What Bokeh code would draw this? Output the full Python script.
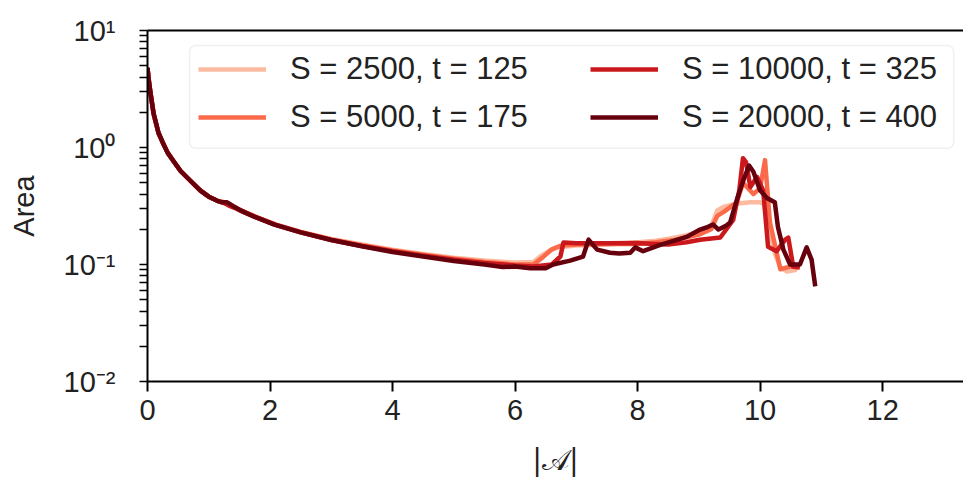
from bokeh.plotting import figure
from bokeh.models import (FixedTicker, CustomJSTickFormatter, LinearAxis, Legend,
                          LegendItem, BoxAnnotation)
from bokeh.embed import file_html
from bokeh.resources import INLINE

# ---------------- data ----------------
labels = ["S = 2500, t = 125", "S = 5000, t = 175", "S = 10000, t = 325", "S = 20000, t = 400"]
colors = ["#fcbba1", "#fb6a4a", "#cb181d", "#67000d"]

x_2500 = [0, 0.02, 0.05, 0.1, 0.18, 0.25, 0.33, 0.42, 0.54, 0.7, 0.86, 1.0, 1.14, 1.25, 1.32,
          1.42, 1.55, 1.8, 2.1, 2.5, 3.0, 3.5, 4.0, 4.5, 5.0, 5.5, 6.0, 6.3, 6.41, 6.55, 6.69,
          7.0, 7.5, 8.0, 8.3, 8.53, 8.8, 9.0, 9.2, 9.3, 9.4, 9.6, 9.84, 10.0, 10.06, 10.15,
          10.25, 10.33, 10.44, 10.6]
y_2500 = [4.7, 3.7, 2.85, 1.9, 1.32, 1.1, 0.9, 0.77, 0.63, 0.52, 0.43, 0.38, 0.35, 0.34, 0.33,
          0.31, 0.285, 0.25, 0.218, 0.19, 0.165, 0.148, 0.134, 0.123, 0.114, 0.108, 0.104, 0.105,
          0.117, 0.13, 0.14, 0.145, 0.148, 0.155, 0.16, 0.167, 0.178, 0.19, 0.21, 0.29, 0.31,
          0.33, 0.34, 0.34, 0.33, 0.2, 0.12, 0.095, 0.087, 0.09]

x_5000 = [0, 0.02, 0.05, 0.1, 0.18, 0.25, 0.33, 0.42, 0.54, 0.7, 0.86, 1.0, 1.14, 1.25, 1.32,
          1.42, 1.55, 1.8, 2.1, 2.5, 3.0, 3.5, 4.0, 4.5, 5.0, 5.5, 6.0, 6.3, 6.45, 6.6, 6.75,
          7.0, 7.5, 8.0, 8.3, 8.6, 9.0, 9.2, 9.3, 9.4, 9.62, 9.72, 9.8, 9.89, 10.0, 10.08,
          10.16, 10.33, 10.49, 10.62]
y_5000 = [4.75, 3.75, 2.9, 1.92, 1.33, 1.1, 0.9, 0.77, 0.63, 0.52, 0.43, 0.38, 0.35, 0.34, 0.33,
          0.31, 0.287, 0.252, 0.219, 0.19, 0.164, 0.146, 0.132, 0.121, 0.112, 0.105, 0.1, 0.1,
          0.115, 0.135, 0.145, 0.148, 0.15, 0.15, 0.155, 0.162, 0.18, 0.2, 0.26, 0.28, 0.34,
          0.5, 0.45, 0.4, 0.45, 0.78, 0.23, 0.091, 0.096, 0.094]

x_10000 = [0, 0.02, 0.05, 0.1, 0.18, 0.25, 0.33, 0.42, 0.54, 0.7, 0.86, 1.0, 1.14, 1.25, 1.32,
           1.42, 1.55, 1.8, 2.1, 2.5, 3.0, 3.5, 4.0, 4.5, 5.0, 5.5, 6.0, 6.3, 6.6, 6.74, 6.79,
           7.0, 7.5, 8.0, 8.25, 8.5, 8.8, 9.02, 9.35, 9.56, 9.66, 9.72, 9.77, 9.84, 9.95, 10.05,
           10.13, 10.27, 10.41, 10.46, 10.54, 10.65]
y_10000 = [4.8, 3.8, 2.9, 1.95, 1.33, 1.1, 0.9, 0.77, 0.63, 0.52, 0.43, 0.38, 0.35, 0.335, 0.32,
           0.305, 0.283, 0.25, 0.217, 0.188, 0.162, 0.144, 0.13, 0.119, 0.11, 0.103, 0.098, 0.096,
           0.1, 0.117, 0.154, 0.152, 0.152, 0.153, 0.15, 0.148, 0.155, 0.163, 0.17, 0.24, 0.43,
           0.81, 0.75, 0.46, 0.56, 0.43, 0.142, 0.13, 0.163, 0.17, 0.096, 0.094]

x_20000 = [0, 0.02, 0.05, 0.1, 0.18, 0.25, 0.33, 0.42, 0.54, 0.7, 0.86, 1.0, 1.14, 1.22, 1.3,
           1.4, 1.52, 1.75, 2.06, 2.5, 3.0, 3.5, 4.0, 4.5, 5.0, 5.5, 5.8, 6.0, 6.25, 6.5, 6.62,
           6.9, 7.11, 7.2, 7.34, 7.55, 7.7, 7.88, 7.96, 8.09, 8.37, 8.6, 8.81, 9.02, 9.15, 9.23,
           9.32, 9.45, 9.51, 9.62, 9.73, 9.82, 9.89, 10.0, 10.11, 10.24, 10.29, 10.38, 10.49,
           10.65, 10.76, 10.84, 10.9]
y_20000 = [4.8, 3.8, 2.9, 1.95, 1.33, 1.1, 0.9, 0.77, 0.63, 0.52, 0.43, 0.38, 0.35, 0.34, 0.34,
           0.315, 0.29, 0.255, 0.22, 0.188, 0.162, 0.143, 0.128, 0.117, 0.107, 0.1, 0.095, 0.096,
           0.093, 0.093, 0.1, 0.108, 0.117, 0.163, 0.134, 0.126, 0.124, 0.126, 0.14, 0.13, 0.147,
           0.16, 0.173, 0.199, 0.21, 0.22, 0.199, 0.215, 0.228, 0.357, 0.53, 0.70, 0.62, 0.43,
           0.37, 0.34, 0.21, 0.134, 0.10, 0.10, 0.14, 0.11, 0.065]

xs = [x_2500, x_5000, x_10000, x_20000]
ys = [y_2500, y_5000, y_10000, y_20000]

x_ticks = [0, 2, 4, 6, 8, 10, 12]
y_decades = [0.01, 0.1, 1, 10]

FONT = "Liberation Sans"

p = figure(width=963, height=479, y_axis_type="log",
           x_range=(0, 13.32), y_range=(0.01, 10),
           output_backend="svg", toolbar_location=None,
           min_border_left=147, min_border_right=0, min_border_top=30, min_border_bottom=97)
p.outline_line_color = None
p.grid.visible = False
p.background_fill_color = "white"
p.border_fill_color = "white"

renderers = []
for x, y, c in zip(xs, ys, colors):
    r = p.line(x, y, line_color=c, line_width=4.5, line_join="round")
    renderers.append(r)

# axes
for ax in [p.xaxis[0], p.yaxis[0]]:
    ax.axis_line_width = 2
    ax.major_tick_line_width = 2
    ax.major_tick_in = 0
    ax.major_tick_out = 10
    ax.minor_tick_in = 0
    ax.minor_tick_out = 0
    ax.major_label_text_font = FONT
    ax.major_label_text_font_size = "29px"
    ax.major_label_text_color = "#222222"
    ax.axis_label_text_font = FONT
    ax.axis_label_text_font_size = "29px"
    ax.axis_label_text_font_style = "normal"
    ax.axis_label_text_color = "#222222"

p.xaxis.ticker = FixedTicker(ticks=x_ticks)
p.xaxis.major_label_standoff = 8
p.xaxis.axis_label = "|𝒜|"
p.xaxis.axis_label_text_font = "DejaVu Serif"
p.xaxis.axis_label_standoff = 20

# every log position 1..9 x 10^k gets a tick; only decades get a label
all_y_ticks = [m * d for d in y_decades[:-1] for m in range(1, 10)] + [y_decades[-1]]
p.yaxis.ticker = FixedTicker(ticks=all_y_ticks)
p.yaxis.major_tick_out = 8
p.yaxis.major_tick_line_width = 1.6
p.yaxis.major_label_standoff = 24
p.yaxis.formatter = CustomJSTickFormatter(code="""
const l = Math.log10(tick);
const e = Math.round(l);
if (Math.abs(l - e) > 1e-6) { return ""; }
const sup = {"-": "\u207b", "0": "\u2070", "1": "\u00b9", "2": "\u00b2", "3": "\u00b3"};
return "10" + String(e).split("").map(c => sup[c]).join("");
""")
p.yaxis.axis_label = "Area"
p.yaxis.axis_label_standoff = 21

top = LinearAxis(ticker=FixedTicker(ticks=[]), axis_line_width=2,
                 major_tick_out=0, minor_tick_out=0, major_label_text_font_size="0px",
                 major_label_standoff=0)
p.add_layout(top, "above")

# legend frame (two columns drawn as two borderless legends)
box = BoxAnnotation(left=0.686, right=13.16, bottom=0.986, top=7.45,
                    fill_color="white", fill_alpha=0.85,
                    line_color="#cccccc", line_width=1.5, border_radius=6)
p.add_layout(box)

def make_legend(idx, loc):
    lg = Legend(items=[LegendItem(label=labels[i], renderers=[renderers[i]]) for i in idx],
                location=loc, orientation="vertical",
                border_line_color=None, background_fill_alpha=0,
                padding=0, margin=0, spacing=10,
                glyph_width=68, glyph_height=38, label_height=38,
                label_standoff=24,
                label_text_font=FONT, label_text_font_size="31px",
                label_text_color="#222222")
    return lg

p.add_layout(make_legend([0, 1], (51, 245)))
p.add_layout(make_legend([2, 3], (443, 245)))

open("out.html", "w").write(file_html(p, INLINE))
